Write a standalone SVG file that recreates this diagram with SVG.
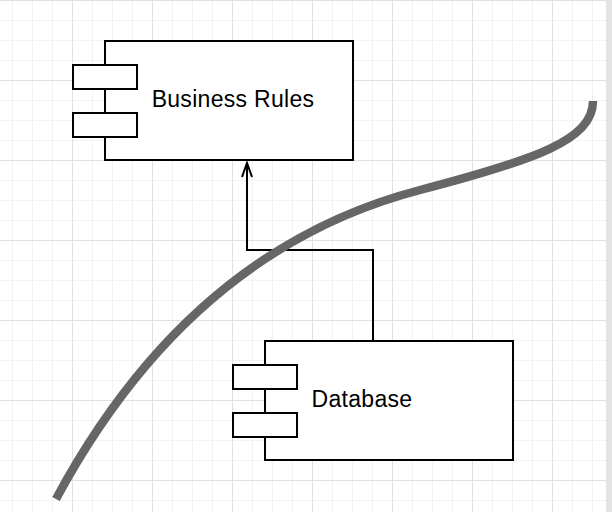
<svg xmlns="http://www.w3.org/2000/svg" width="612" height="512" viewBox="0 0 612 512">
<style>
.box{fill:#fff;stroke:#000;stroke-width:2}
.lbl{font-family:"Liberation Sans",Arial,sans-serif;font-size:23px;letter-spacing:0.3px;fill:#000;text-anchor:middle}
.edge{fill:none;stroke:#000;stroke-width:2}
</style>
<defs>
<pattern id="grid" patternUnits="userSpaceOnUse" x="-8" y="0" width="80" height="80">
<rect x="0" y="0" width="80" height="80" fill="#fff"/>
<g fill="#f3f3f3">
<rect x="20" y="0" width="1" height="80"/>
<rect x="40" y="0" width="1" height="80"/>
<rect x="60" y="0" width="1" height="80"/>
<rect x="0" y="20" width="80" height="1"/>
<rect x="0" y="40" width="80" height="1"/>
<rect x="0" y="60" width="80" height="1"/>
</g>
<g fill="#e0e0e0">
<rect x="0" y="0" width="1" height="80"/>
<rect x="0" y="0" width="80" height="1"/>
</g>
</pattern>
</defs>
<rect x="0" y="0" width="612" height="512" fill="#fff"/>
<rect x="0" y="0" width="606" height="512" fill="url(#grid)"/>
<rect x="606" y="0" width="6" height="512" fill="#e4e4e4"/>

<g id="business-rules">
<rect class="box" x="105" y="41" width="248" height="119"/>
<rect class="box" x="73" y="65" width="64" height="24"/>
<rect class="box" x="73" y="113" width="64" height="24"/>
<text class="lbl" x="233" y="107">Business Rules</text>
</g>

<g id="database">
<rect class="box" x="265" y="341" width="248" height="119"/>
<rect class="box" x="233" y="365" width="64" height="24"/>
<rect class="box" x="233" y="413" width="64" height="24"/>
<text class="lbl" x="362" y="407">Database</text>
</g>

<g id="connectors">
<path class="edge" d="M373,341 V250 H247 V163"/>
<polyline class="edge" points="242,177 247,163 252,177"/>
</g>

<g id="curve">
<path d="M56,499 Q190,250 420,190 C535,160 593,140 593,101" fill="none" stroke="#666" stroke-width="8.5"/>
</g>
</svg>
